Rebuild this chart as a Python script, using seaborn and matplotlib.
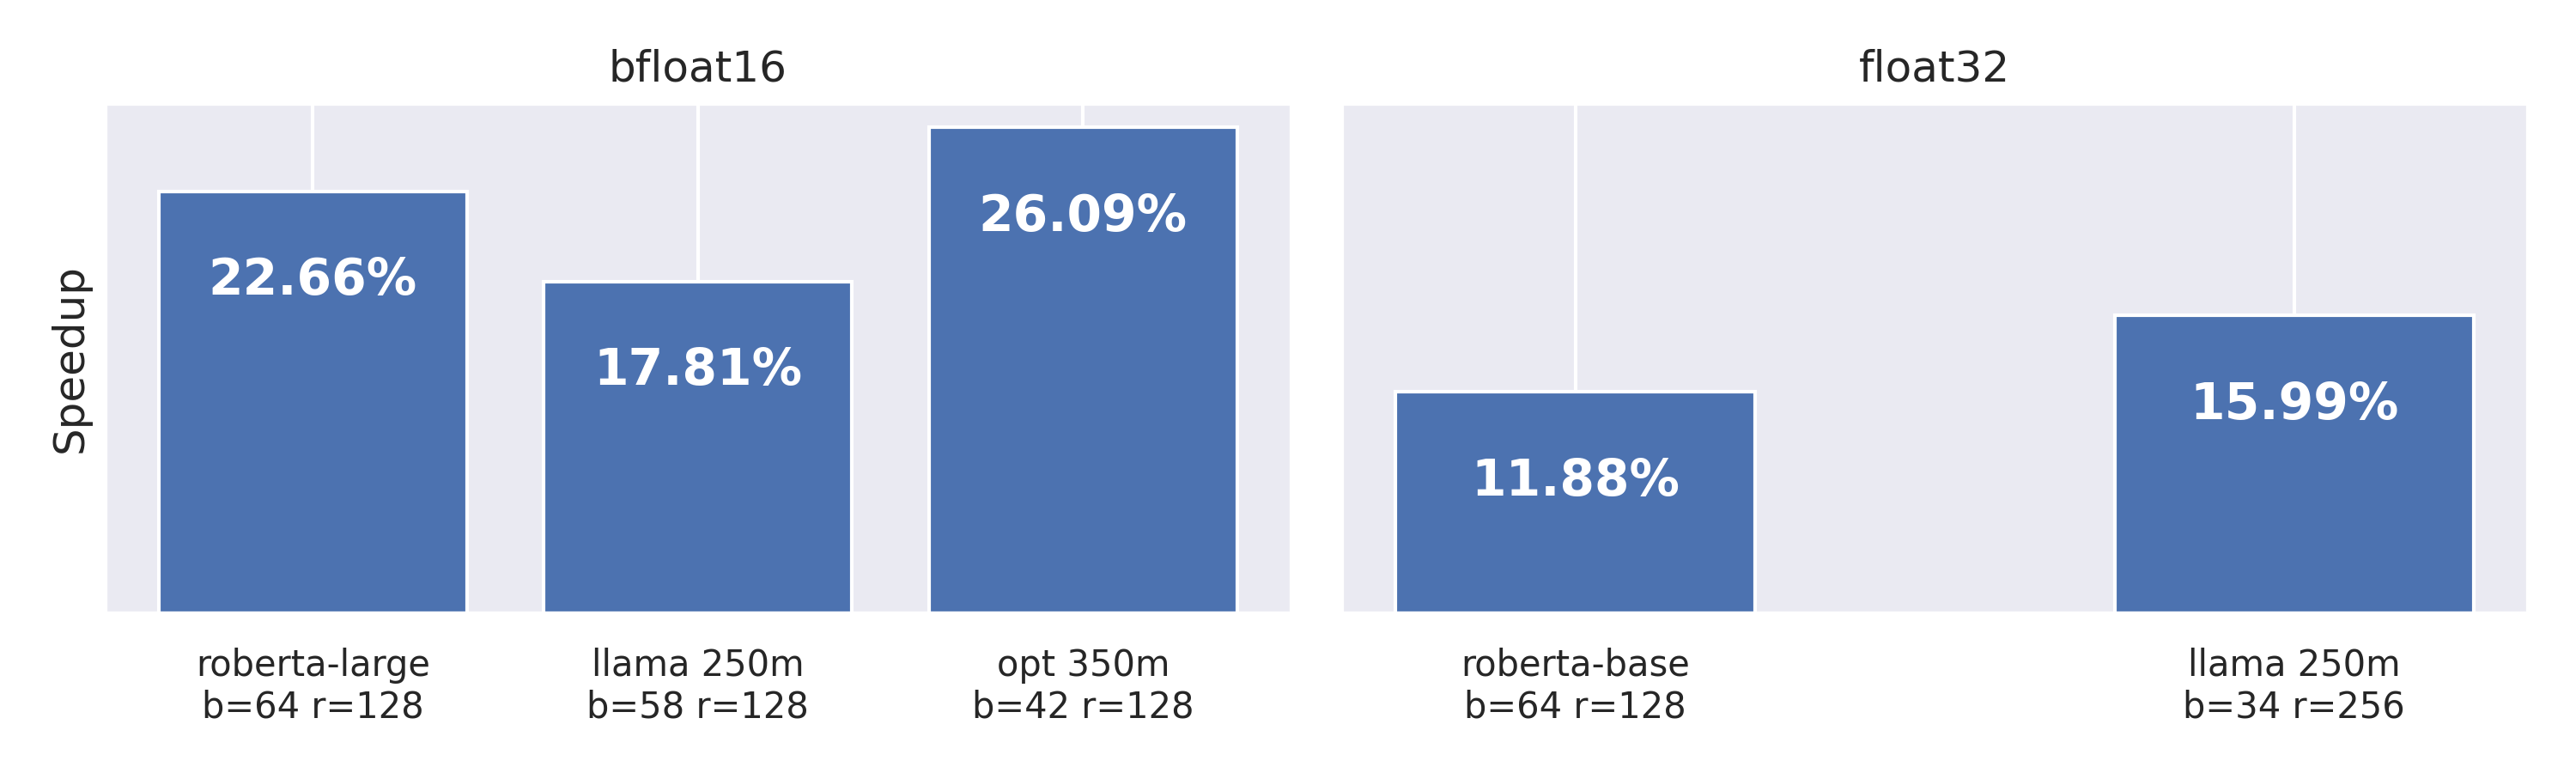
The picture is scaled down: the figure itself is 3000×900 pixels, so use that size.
import matplotlib
matplotlib.use("Agg")
import matplotlib.pyplot as plt
import seaborn as sns

# bfloat16 runs
bf16_models = ["roberta-large\nb=64 r=128", "llama 250m\nb=58 r=128", "opt 350m\nb=42 r=128"]
bf16_speedup = [22.66, 17.81, 26.09]

# float32 runs
fp32_models = ["roberta-base\nb=64 r=128", "llama 250m\nb=34 r=256"]
fp32_speedup = [11.88, 15.99]

panels = [
    ("bfloat16", bf16_models, bf16_speedup, 0.8),
    ("float32", fp32_models, fp32_speedup, 0.5),
]

sns.set_theme(style="darkgrid")
blue = sns.color_palette("deep")[0]

fig, axes = plt.subplots(1, 2, figsize=(10, 3), dpi=300, sharey=True)

for ax, (title, models, speedup, width) in zip(axes, panels):
    sns.barplot(x=models, y=speedup, ax=ax, width=width, color=blue,
                saturation=1, edgecolor="white", linewidth=1)
    # mimic matplotlib's default 5% margin around the bars
    n = len(models)
    span = (n - 1) + width
    ax.set_xlim(-width / 2 - 0.05 * span, n - 1 + width / 2 + 0.05 * span)
    for i, v in enumerate(speedup):
        ax.annotate(f"{v:.2f}%", xy=(i, v), xytext=(0, -25), textcoords="offset points",
                    ha="center", va="center", color="white", fontsize=14, fontweight="bold")
    ax.set_title(title)
    ax.set_yticks([])
    ax.set_xlabel("")
    ax.xaxis.grid(True)
    ax.set_axisbelow(True)
    ax.tick_params(axis="x", labelsize=10)

axes[0].set_ylabel("Speedup")
axes[0].set_ylim(0, max(bf16_speedup + fp32_speedup) * 1.05)

fig.subplots_adjust(left=0.0407, right=0.9813, top=0.8667, bottom=0.2067, wspace=0.0427)
fig.savefig("out.png", dpi=300)
